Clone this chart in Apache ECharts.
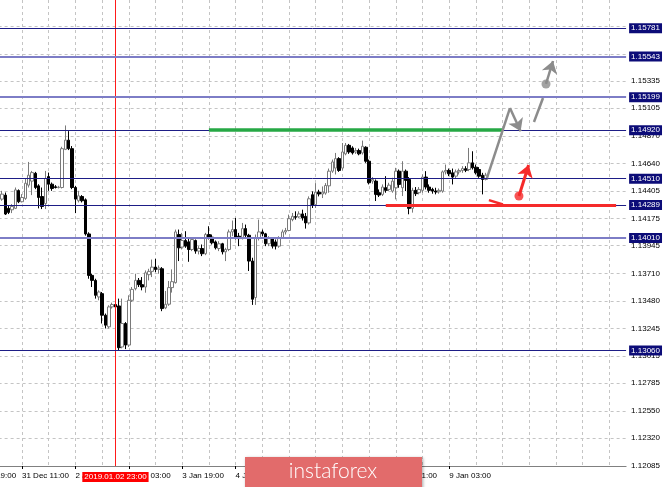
<!DOCTYPE html>
<html><head><meta charset="utf-8">
<script src="https://cdn.jsdelivr.net/npm/echarts@6/dist/echarts.min.js"></script>
<style>html,body{margin:0;padding:0;background:#fff;}#c{width:665px;height:487px;}</style>
</head><body><div id="c"></div>
<script>
// ---- data ----
const barCount = 198;          // hourly slots on the time axis (incl. empty future area)
const firstBar = 10;           // slot of the first candle
const xTickIdx = [0, 16, 32, 48, 64, 80, 96, 112, 128, 144];
const xTickLabels = ['28 Dec 19:00', '31 Dec 11:00', '2 Jan 11:00', '3 Jan 03:00', '3 Jan 19:00',
  '4 Jan 11:00', '7 Jan 03:00', '7 Jan 19:00', '8 Jan 11:00', '9 Jan 03:00'];
const yTickLabels = ['1.12085', '1.12320', '1.12550', '1.12785', '1.13015', '1.13245', '1.13480', '1.13710',
  '1.13945', '1.14175', '1.14405', '1.14640', '1.14870', '1.15105', '1.15335'];
const yGridOnly = ['1.15565', '1.15800'];
const yMin = 1.12085, yMax = 1.16019;

const open = [1.14338,1.14372,1.14260,1.14248,1.14260,1.14410,1.14316,1.14344,1.14456,1.14490,
1.14556,1.14450,1.14360,1.14300,1.14528,1.14464,1.14442,1.14436,1.14436,1.14758,
1.14836,1.14764,1.14436,1.14324,1.14360,1.14332,1.14044,1.13694,1.13652,1.13512,
1.13540,1.13358,1.13260,1.13428,1.13448,1.13436,1.13090,1.13288,1.13106,1.13484,
1.13582,1.13652,1.13616,1.13596,1.13700,1.13728,1.13764,1.13744,1.13750,1.13420,
1.13451,1.13591,1.13633,1.14039,1.13933,1.13989,1.13977,1.13913,1.13989,1.13899,
1.13921,1.13877,1.14039,1.14017,1.13977,1.13921,1.13961,1.13893,1.13913,1.14061,
1.14081,1.14025,1.14005,1.14089,1.14033,1.13815,1.13507,1.14011,1.14061,1.14045,
1.13961,1.14005,1.13977,1.13941,1.14011,1.14061,1.14073,1.14165,1.14190,1.14188,
1.14213,1.14193,1.14137,1.14375,1.14291,1.14397,1.14381,1.14389,1.14450,1.14574,
1.14600,1.14680,1.14600,1.14720,1.14792,1.14770,1.14736,1.14748,1.14728,1.14776,
1.14658,1.14490,1.14490,1.14392,1.14378,1.14434,1.14420,1.14406,1.14434,1.14574,
1.14434,1.14574,1.14504,1.14260,1.14412,1.14392,1.14412,1.14524,1.14440,1.14420,
1.14406,1.14400,1.14406,1.14568,1.14580,1.14560,1.14532,1.14568,1.14580,1.14594,
1.14588,1.14644,1.14608,1.14588,1.14540,1.14504];
const high = [1.14408,1.14394,1.14288,1.14296,1.14436,1.14420,1.14380,1.14512,1.14652,1.14576,
1.14568,1.14464,1.14436,1.14576,1.14562,1.14478,1.14456,1.14450,1.14780,1.14960,
1.14912,1.14786,1.14450,1.14408,1.14372,1.14344,1.14058,1.13708,1.13666,1.13568,
1.13554,1.13372,1.13442,1.13464,1.13470,1.13498,1.13498,1.13300,1.13526,1.13596,
1.13708,1.13672,1.13680,1.13736,1.13750,1.13828,1.13834,1.13778,1.13764,1.13563,
1.13647,1.13745,1.14081,1.14081,1.14053,1.14067,1.14011,1.14017,1.13997,1.13941,
1.13955,1.14053,1.14109,1.14039,1.13989,1.13983,1.13969,1.13927,1.14081,1.14157,
1.14179,1.14053,1.14137,1.14123,1.14045,1.13843,1.14039,1.14165,1.14081,1.14053,
1.14025,1.14011,1.13997,1.14025,1.14081,1.14095,1.14207,1.14221,1.14235,1.14235,
1.14249,1.14221,1.14361,1.14403,1.14473,1.14417,1.14445,1.14473,1.14596,1.14672,
1.14728,1.14692,1.14812,1.14812,1.14804,1.14784,1.14770,1.14764,1.14832,1.14784,
1.14672,1.14524,1.14504,1.14420,1.14462,1.14532,1.14476,1.14518,1.14602,1.14588,
1.14658,1.14588,1.14524,1.14434,1.14440,1.14440,1.14546,1.14574,1.14462,1.14434,
1.14434,1.14428,1.14580,1.14630,1.14596,1.14596,1.14588,1.14596,1.14616,1.14616,
1.14770,1.14742,1.14630,1.14608,1.14560,1.14560];
const low = [1.14324,1.14204,1.14212,1.14220,1.14254,1.14304,1.14310,1.14332,1.14436,1.14372,
1.14422,1.14260,1.14254,1.14254,1.14408,1.14408,1.14428,1.14428,1.14428,1.14752,
1.14752,1.14422,1.14220,1.14310,1.14310,1.14030,1.13666,1.13596,1.13498,1.13484,
1.13288,1.13246,1.13246,1.13414,1.13400,1.13056,1.13078,1.13072,1.13090,1.13470,
1.13568,1.13596,1.13568,1.13548,1.13652,1.13680,1.13722,1.13708,1.13392,1.13409,
1.13437,1.13549,1.13625,1.13815,1.13913,1.13927,1.13809,1.13899,1.13877,1.13871,
1.13857,1.13865,1.13997,1.13955,1.13913,1.13899,1.13871,1.13815,1.13899,1.14025,
1.13997,1.13941,1.13997,1.14011,1.13731,1.13445,1.13445,1.13989,1.14025,1.13941,
1.13941,1.13921,1.13913,1.13927,1.14005,1.14039,1.14067,1.14151,1.14165,1.14179,
1.14157,1.14089,1.14123,1.14263,1.14263,1.14361,1.14347,1.14375,1.14392,1.14560,
1.14546,1.14568,1.14580,1.14708,1.14720,1.14714,1.14720,1.14708,1.14714,1.14644,
1.14462,1.14468,1.14322,1.14356,1.14364,1.14392,1.14406,1.14392,1.14336,1.14434,
1.14364,1.14406,1.14210,1.14224,1.14364,1.14378,1.14392,1.14420,1.14392,1.14384,
1.14378,1.14384,1.14392,1.14546,1.14532,1.14462,1.14512,1.14546,1.14560,1.14566,
1.14574,1.14588,1.14546,1.14518,1.14378,1.14496];
const close = [1.14380,1.14212,1.14226,1.14276,1.14416,1.14316,1.14352,1.14472,1.14540,1.14562,
1.14436,1.14352,1.14276,1.14512,1.14464,1.14428,1.14436,1.14439,1.14764,1.14836,
1.14764,1.14436,1.14338,1.14366,1.14324,1.14044,1.13694,1.13652,1.13526,1.13554,
1.13358,1.13274,1.13428,1.13448,1.13428,1.13084,1.13288,1.13106,1.13484,1.13576,
1.13652,1.13616,1.13596,1.13716,1.13728,1.13764,1.13744,1.13756,1.13414,1.13450,
1.13591,1.13641,1.14061,1.13927,1.13989,1.13941,1.13913,1.13997,1.13899,1.13921,
1.13877,1.14039,1.14017,1.13969,1.13927,1.13961,1.13893,1.13913,1.14061,1.14081,
1.14011,1.14005,1.14089,1.14033,1.13815,1.13493,1.14011,1.14061,1.14045,1.13961,
1.14005,1.13941,1.13941,1.14005,1.14061,1.14073,1.14173,1.14193,1.14185,1.14213,
1.14179,1.14137,1.14341,1.14285,1.14397,1.14381,1.14397,1.14453,1.14574,1.14652,
1.14680,1.14580,1.14736,1.14792,1.14736,1.14728,1.14748,1.14720,1.14784,1.14658,
1.14476,1.14504,1.14378,1.14372,1.14440,1.14412,1.14456,1.14490,1.14574,1.14462,
1.14574,1.14496,1.14260,1.14412,1.14384,1.14420,1.14524,1.14440,1.14412,1.14406,
1.14398,1.14412,1.14568,1.14580,1.14552,1.14524,1.14568,1.14580,1.14596,1.14582,
1.14644,1.14602,1.14560,1.14532,1.14504,1.14540];

const levels = [1.15781, 1.15543, 1.15199, 1.14920, 1.14510, 1.14289, 1.14010, 1.13060];
const levelLight = [false, true, true, false, false, false, true, false];
const crossIdx = 44;
const crossLabel = '2019.01.02 23:00';
const greenLine = [[72, 1.14920], [160, 1.14920]];
const redLine = [[125, 1.14289], [194, 1.14289]];
const redTick = [[155.9, 1.14330], [160.1, 1.14293]];
const redArrow = [[164.9, 1.14364], [167.8, 1.14626]];
const redDot = [164.9, 1.14364];
const grayRise = [[155.3, 1.14516], [162.2, 1.15107]];
const grayDrop = [[162.2, 1.15107], [165.4, 1.14911]];
const grayDash = [[169.4, 1.14989], [172.1, 1.15192]];
const grayArrow = [[173.0, 1.15310], [175.1, 1.15504]];
const grayDot = [173.0, 1.15310];

// ---- chart ----
const FONT = 'Liberation Sans';
const cats = Array.from({length: barCount}, (_, i) => String(i));
const candleData = open.map((o, i) => [firstBar + i, o, close[i], low[i], high[i]]);
const labelOf = {};
xTickIdx.forEach((k, i) => { labelOf[k] = xTickLabels[i]; });
const yLabelVals = yTickLabels.map(Number);
const yTickVals = yLabelVals.concat(yGridOnly.map(Number));
const yStep = (yLabelVals[yLabelVals.length - 1] - yLabelVals[0]) / (yLabelVals.length - 1);

function seg(pts, color, width, arrow) {
  const a = {coord: pts[0], symbol: 'none'};
  const b = {coord: pts[1], symbol: arrow ? 'arrow' : 'none', symbolSize: arrow ? 12 : 0};
  return [a, Object.assign(b, {lineStyle: {color: color, width: width, type: 'solid'}})];
}
const GRAY = '#8c8c8c', RED = '#f52a2a', GREEN = '#26a845';

const levelLines = levels.map((v, i) => [
  {coord: [0, v], symbol: 'none'},
  {coord: [barCount - 1, v], symbol: 'none',
   lineStyle: {color: levelLight[i] ? '#7d7dc6' : '#1d1d86', width: levelLight[i] ? 2 : 1, type: 'solid'},
   label: {show: true, position: 'end', formatter: v.toFixed(5)}}
]);

const chart = echarts.init(document.getElementById('c'), null, {renderer: 'canvas'});
chart.setOption({
  animation: false,
  backgroundColor: '#ffffff',
  grid: {left: -31.4, right: 38.9, top: 0, bottom: 21, containLabel: false, outerBoundsMode: 'none'},
  xAxis: [{
    type: 'category', data: cats, boundaryGap: false,
    axisLine: {show: true, lineStyle: {color: '#808080', width: 1}},
    axisTick: {show: true, length: 3, interval: (i) => labelOf[i] !== undefined, lineStyle: {color: '#000'}},
    axisLabel: {show: true, interval: (i) => labelOf[i] !== undefined, formatter: (v, i) => labelOf[i] || '',
      align: 'left', margin: 6, fontSize: 8, fontFamily: FONT, color: '#000'},
    splitLine: {show: true, interval: (i) => i % 8 === 0, lineStyle: {color: '#c4c4c4', type: [3, 3], width: 1}}
  }, {
    type: 'value', min: 0, max: barCount - 1, show: false
  }],
  yAxis: [{
    type: 'value', position: 'right', min: yMin, max: yMax, interval: yStep,
    axisLine: {show: true, lineStyle: {color: '#808080', width: 1}},
    axisTick: {show: true, length: 3, customValues: yTickVals, lineStyle: {color: '#000'}},
    axisLabel: {show: true, customValues: yLabelVals, margin: 5, fontSize: 8, fontFamily: FONT, color: '#000',
      showMinLabel: true, showMaxLabel: true,
      formatter: (v) => {
        let best = '', d = 1;
        yTickLabels.forEach(s => { const dd = Math.abs(Number(s) - v); if (dd < d) { d = dd; best = s; } });
        return d < yStep / 3 ? best : '';
      }},
    splitLine: {show: true, lineStyle: {color: '#c4c4c4', type: [3, 3], width: 1}}
  }],
  series: [{
    type: 'candlestick', xAxisIndex: 0, yAxisIndex: 0, data: candleData,
    encode: {x: 0, y: [1, 2, 3, 4]},
    barWidth: 3,
    itemStyle: {color: '#ffffff', color0: '#000000', borderColor: '#7a7a7a', borderColor0: '#000000', borderWidth: 1},
    markLine: {
      silent: true, symbol: ['none', 'none'], animation: false, precision: 5,
      label: {show: true, position: 'start', formatter: crossLabel, backgroundColor: '#ff0000', color: '#fff',
        fontSize: 8, fontFamily: FONT, distance: 6, padding: [1, 2, 1, 2], lineHeight: 8,
        align: 'center', verticalAlign: 'top'},
      data: [{xAxis: crossIdx, lineStyle: {color: '#ff1a1a', width: 1, type: 'solid'}}]
    }
  }, {
    type: 'line', xAxisIndex: 1, yAxisIndex: 0, data: [], z: 3,
    markLine: {
      silent: true, animation: false, symbol: ['none', 'none'], precision: 5,
      label: {show: true, position: 'end', distance: 3, color: '#fff', backgroundColor: '#0c0c78',
        fontSize: 8, fontFamily: FONT, padding: [1, 2, 1, 2], lineHeight: 8},
      data: levelLines
    }
  }, {
    type: 'line', xAxisIndex: 1, yAxisIndex: 0, data: [], z: 5,
    markLine: {
      silent: true, animation: false, symbol: ['none', 'none'], label: {show: false}, precision: 5,
      data: [
        seg(greenLine, GREEN, 3.5, false),
        seg(redLine, RED, 3, false),
        seg(redTick, RED, 2.5, false),
        seg(redArrow, RED, 3, true),
        seg(grayRise, GRAY, 2.5, false),
        seg(grayDrop, GRAY, 2.5, true),
        seg(grayDash, GRAY, 2.5, false),
        seg(grayArrow, GRAY, 2.5, true)
      ]
    }
  }, {
    type: 'scatter', xAxisIndex: 1, yAxisIndex: 0, z: 6, silent: true, symbolSize: 9,
    data: [{value: redDot, itemStyle: {color: RED}}, {value: grayDot, itemStyle: {color: GRAY}}]
  }],
  graphic: [{
    type: 'rect', left: 245, top: 457, silent: true, z: 100, zlevel: 2,
    shape: {x: 0, y: 0, width: 177, height: 32},
    style: {fill: '#e26b6b', shadowBlur: 3, shadowColor: 'rgba(0,0,0,0.35)', shadowOffsetX: 1, shadowOffsetY: 1}
  }, {
    type: 'text', x: 333, y: 471, silent: true, z: 101, zlevel: 2,
    style: {text: 'instaforex', fill: '#ffffff', font: '300 21px Lato', textAlign: 'center', textVerticalAlign: 'middle'}
  }]
});
</script>
</body></html>
